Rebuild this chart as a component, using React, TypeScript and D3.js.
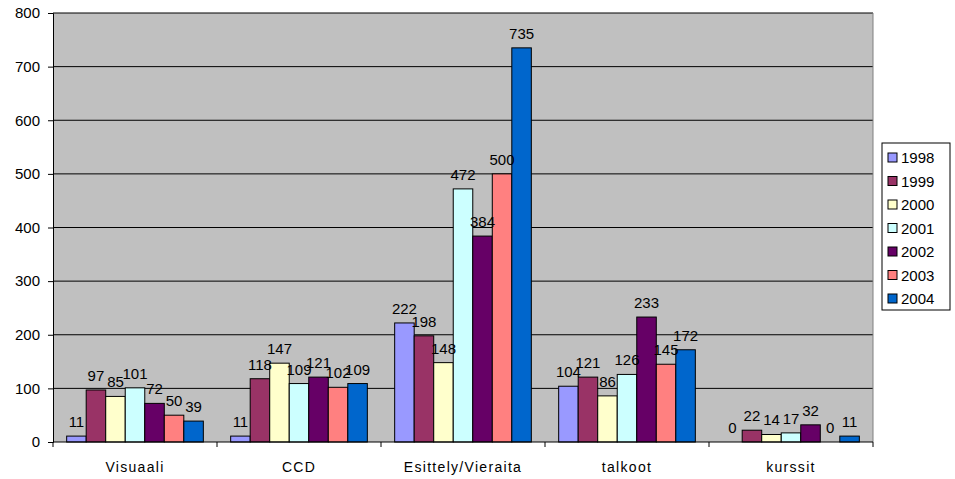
import React, { useRef, useEffect } from 'react';
import * as d3 from 'd3';

// chart data
const categories = ['Visuaali', 'CCD', 'Esittely/Vieraita', 'talkoot', 'kurssit'];
const years = ['1998', '1999', '2000', '2001', '2002', '2003', '2004'];
const values1998 = [11, 11, 222, 104, 0];
const values1999 = [97, 118, 198, 121, 22];
const values2000 = [85, 147, 148, 86, 14];
const values2001 = [101, 109, 472, 126, 17];
const values2002 = [72, 121, 384, 233, 32];
const values2003 = [50, 102, 500, 145, 0];
const values2004 = [39, 109, 735, 172, 11];
const yTicks = [0, 100, 200, 300, 400, 500, 600, 700, 800];

const colors = ['#9999FF', '#993366', '#FFFFCC', '#CCFFFF', '#660066', '#FF8080', '#0066CC'];

const App: React.FC = () => {
  const ref = useRef<SVGSVGElement>(null);

  useEffect(() => {
    if (!ref.current) return;
    const svg = d3.select(ref.current);
    svg.selectAll('*').remove();

    const series = [values1998, values1999, values2000, values2001, values2002, values2003, values2004];
    const left = 53, right = 873, top = 13, bottom = 442;
    const font = 'Arial, "Liberation Sans", sans-serif';

    const x0 = d3.scaleBand<string>().domain(categories).range([left, right]).paddingInner(0).paddingOuter(0);
    const x1 = d3.scaleBand<string>().domain(years).range([0, x0.bandwidth()]).paddingInner(0).paddingOuter(0.7);
    const y = d3.scaleLinear().domain([0, 800]).range([bottom, top]);

    // plot area
    svg.append('rect')
      .attr('x', left).attr('y', top)
      .attr('width', right - left).attr('height', bottom - top)
      .attr('fill', '#C0C0C0');

    // gridlines
    svg.append('g').selectAll('line')
      .data(yTicks.filter(t => t > 0))
      .join('line')
      .attr('x1', left).attr('x2', right)
      .attr('y1', d => y(d)).attr('y2', d => y(d))
      .attr('stroke', '#000').attr('stroke-width', 1);

    svg.append('line')
      .attr('x1', right).attr('x2', right).attr('y1', top).attr('y2', bottom)
      .attr('stroke', '#808080');

    // bars
    series.forEach((vals, i) => {
      const g = svg.append('g');
      g.selectAll('rect')
        .data(vals)
        .join('rect')
        .attr('x', (d, j) => (x0(categories[j]) as number) + (x1(years[i]) as number))
        .attr('y', d => y(d))
        .attr('width', x1.bandwidth())
        .attr('height', d => Math.max(0, bottom - y(d)))
        .attr('fill', colors[i])
        .attr('stroke', d => (d > 0 ? '#000' : 'none'))
        .attr('stroke-width', 1);
    });

    // value labels
    series.forEach((vals, i) => {
      svg.append('g').selectAll('text')
        .data(vals)
        .join('text')
        .attr('x', (d, j) => (x0(categories[j]) as number) + (x1(years[i]) as number) + x1.bandwidth() / 2)
        .attr('y', d => y(d) - 9)
        .attr('text-anchor', 'middle')
        .attr('font-family', font)
        .attr('font-size', 15)
        .attr('fill', '#000')
        .text(d => String(d));
    });

    // y axis
    const yAxis = d3.axisLeft(y).tickValues(yTicks).tickSize(5).tickPadding(8).tickFormat(d3.format('d'));
    const ya = svg.append('g').attr('transform', `translate(${left},0)`).call(yAxis);
    ya.select('.domain').attr('stroke', '#000');
    ya.selectAll('text').attr('font-family', font).attr('font-size', 15).attr('fill', '#000');

    // x axis
    const xa = svg.append('g').attr('transform', `translate(0,${bottom})`);
    xa.append('line').attr('x1', left).attr('x2', right).attr('y1', 0).attr('y2', 0).attr('stroke', '#000');
    xa.selectAll('line.tick')
      .data(d3.range(categories.length + 1))
      .join('line')
      .attr('class', 'tick')
      .attr('x1', d => left + d * x0.step()).attr('x2', d => left + d * x0.step())
      .attr('y1', 0).attr('y2', 5)
      .attr('stroke', '#000');
    xa.selectAll('text')
      .data(categories)
      .join('text')
      .attr('x', d => (x0(d) as number) + x0.bandwidth() / 2)
      .attr('y', 30)
      .attr('text-anchor', 'middle')
      .attr('font-family', font)
      .attr('font-size', 14)
      .attr('letter-spacing', 1.3)
      .attr('fill', '#000')
      .text(d => d);

    // legend
    const lg = svg.append('g').attr('transform', 'translate(882,143)');
    lg.append('rect').attr('width', 68).attr('height', 167).attr('fill', '#fff').attr('stroke', '#000');
    years.forEach((yr, i) => {
      const row = lg.append('g').attr('transform', `translate(0,${14 + i * 23.5})`);
      row.append('rect').attr('x', 6).attr('y', -4).attr('width', 9).attr('height', 9)
        .attr('fill', colors[i]).attr('stroke', '#000');
      row.append('text').attr('x', 19).attr('y', 6)
        .attr('font-family', font).attr('font-size', 15).attr('fill', '#000')
        .text(yr);
    });
  }, []);

  return <svg ref={ref} width={955} height={479} style={{ display: 'block', position: 'absolute', left: 0, top: 0, background: '#fff' }} />;
};

export default App;
